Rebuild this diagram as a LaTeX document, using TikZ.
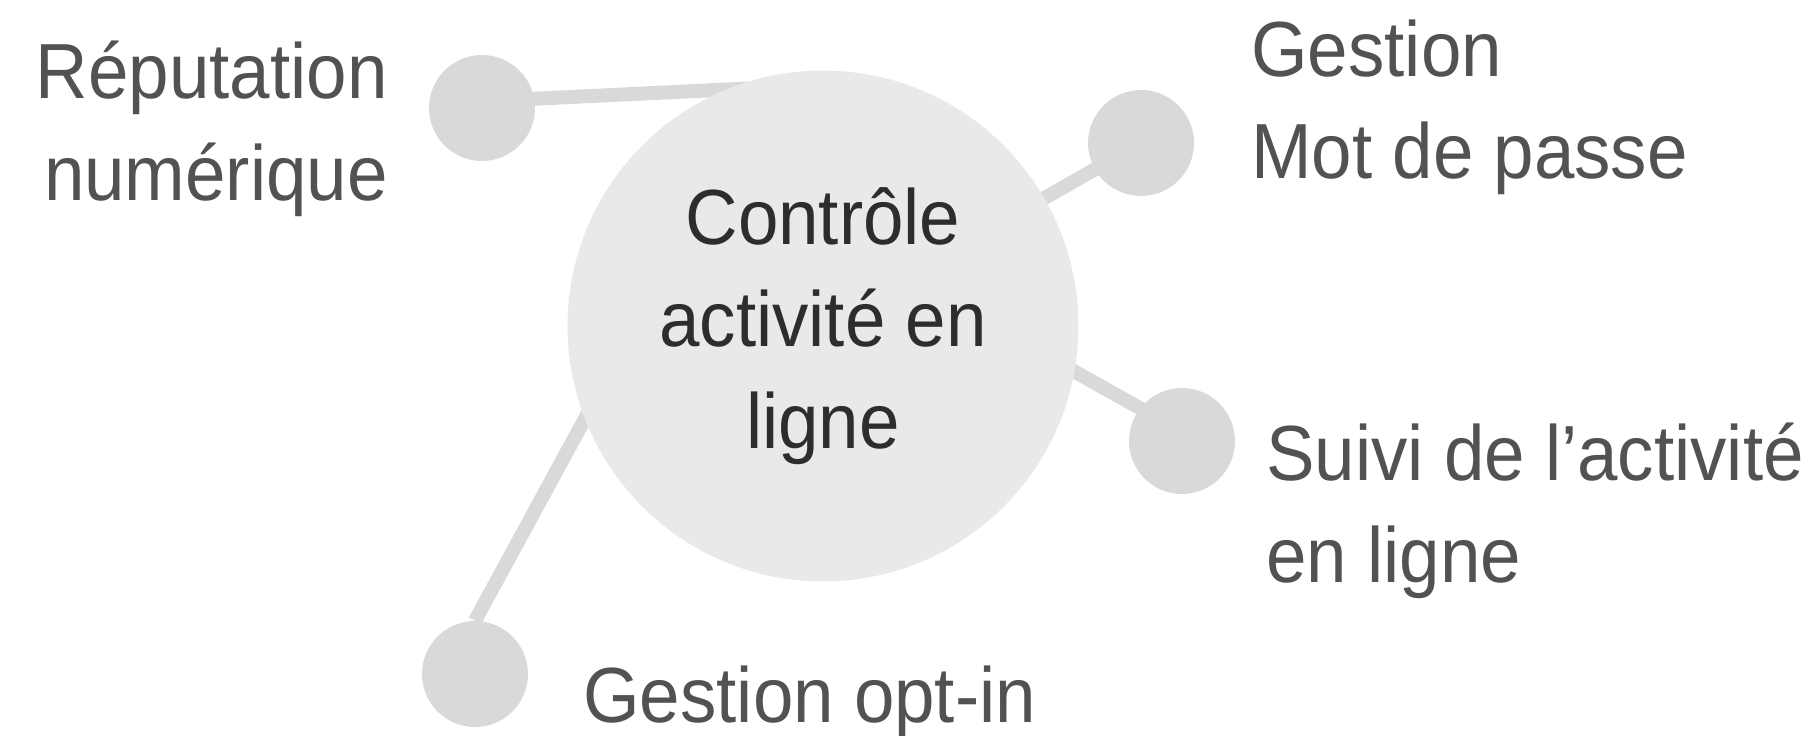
\documentclass[tikz,border=0pt]{standalone}
\usepackage{fontspec}
\setmainfont{Liberation Sans}[FakeStretch=0.93]
\usetikzlibrary{backgrounds}
\definecolor{dotgray}{HTML}{D9D9D9}
\definecolor{hubgray}{HTML}{E9E9E9}
\definecolor{txtgray}{HTML}{525252}
\definecolor{hubtxt}{HTML}{2D2D2D}

\begin{document}
\begin{tikzpicture}[x=0.02cm, y=-0.02cm,
    dot/.style={circle, fill=dotgray, minimum size=2.12cm, inner sep=0pt},
    hub/.style={circle, fill=hubgray, minimum size=10.22cm, inner sep=0pt, align=center, text=hubtxt, font=\fontsize{44.5}{58}\selectfont},
    link/.style={draw=dotgray, line width=0.28cm},
    lbl/.style={inner sep=0pt, text=txtgray, font=\fontsize{44.5}{58}\selectfont}]
    \useasboundingbox (0,0) rectangle (1819,735);

    \node (hub) [hub] at (823,326) {Contrôle\\activité en\\ligne};
    \node (rep) [dot] at (482,108) {};
    \node (mdp) [dot] at (1141,143) {};
    \node (suivi) [dot] at (1182,441) {};
    \node (optin) [dot] at (475,674) {};

    \coordinate (rep-in) at (800,86);
    \coordinate (mdp-in) at (950,252);
    \coordinate (suivi-in) at (900,274);
    \coordinate (optin-in) at (606,380);

    \begin{scope}[on background layer]
        \draw[link, shorten <=-0.2cm] (rep.10) -- (rep-in);
        \draw[link, shorten <=-0.2cm] (mdp) -- (mdp-in);
        \draw[link, shorten <=-0.2cm] (suivi.142) -- (suivi-in);
        \draw[link] (optin.north) -- (optin-in);
    \end{scope}

    % base anchor = baseline of the last line
    \node (rep-lbl) [lbl, align=right, anchor=base east] at (388,200) {Réputation\\numérique};
    \node (mdp-lbl) [lbl, align=left, anchor=base west] at (1251,178) {Gestion\\Mot de passe};
    \node (suivi-lbl) [lbl, align=left, anchor=base west] at (1266,582) {Suivi de l’activité\\en ligne};
    \node (optin-lbl) [lbl, anchor=base west] at (583,722) {Gestion opt-in};
\end{tikzpicture}
\end{document}
